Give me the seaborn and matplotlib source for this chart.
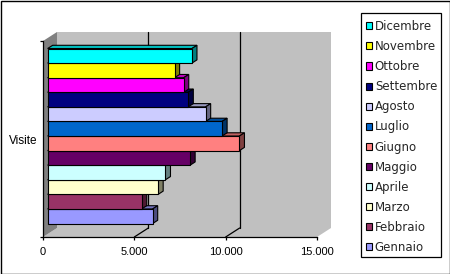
import numpy as np
import pandas as pd
import seaborn as sns
import matplotlib
matplotlib.use("Agg")
import matplotlib.pyplot as plt
from matplotlib.patches import Polygon, Rectangle
from matplotlib.lines import Line2D
from matplotlib.transforms import ScaledTranslation
import matplotlib.colors as mcolors

# ---- data ----
mesi = ["Gennaio", "Febbraio", "Marzo", "Aprile", "Maggio", "Giugno",
        "Luglio", "Agosto", "Settembre", "Ottobre", "Novembre", "Dicembre"]
visite = [5750, 5150, 6050, 6450, 7800, 10500, 9550, 8650, 7700, 7450, 6950, 7900]
colori = ["#9999FF", "#993366", "#FFFFCC", "#CCFFFF", "#660066", "#FF8080",
          "#0066CC", "#CCCCFF", "#000080", "#FF00FF", "#FFFF00", "#00FFFF"]
categoria = "Visite"
tick_valori = [0, 5000, 10000, 15000]
tick_etichette = ["0", "5.000", "10.000", "15.000"]

sns.set_theme(style="white")
plt.rcParams["font.family"] = ["Liberation Sans", "DejaVu Sans"]

W, H = 450, 274
fig = plt.figure(figsize=(W / 100, H / 100), dpi=100)
fig.patch.set_facecolor("white")

# front plane of the 3D box, in pixels
L, R, T, B = 43, 317, 41, 237
ax = fig.add_axes([L / W, (H - B) / H, (R - L) / W, (B - T) / H])
ax.set_facecolor("none")

df = pd.DataFrame({"categoria": [categoria] * len(mesi), "mese": mesi, "visite": visite})
ordine = mesi[::-1]
pal = dict(zip(mesi, colori))

sns.barplot(data=df, x="visite", y="categoria", hue="mese", hue_order=ordine,
            palette=pal, orient="h", width=0.8, saturation=1, errorbar=None,
            edgecolor="black", linewidth=0.8, legend=False, ax=ax)
barre = list(ax.patches)

ax.set_xlim(tick_valori[0], tick_valori[-1])
ax.set_ylim(0.448, -0.448)

# depth vector (pixels) -> axes fraction
Dpx = (14.0, 9.0)
dx, dy = Dpx[0] / (R - L), Dpx[1] / (B - T)
f1, f2 = 0.33, 0.69

# walls
ax.add_patch(Rectangle((dx, dy), 1, 1, transform=ax.transAxes, facecolor="#C0C0C0",
                       edgecolor="none", zorder=0, clip_on=False))
ax.add_patch(Polygon([(0, 0), (1, 0), (1 + dx, dy), (dx, dy)], closed=True,
                     transform=ax.transAxes, facecolor="#C0C0C0", edgecolor="none",
                     zorder=0, clip_on=False))
ax.add_patch(Polygon([(0, 0), (0, 1), (dx, 1 + dy), (dx, dy)], closed=True,
                     transform=ax.transAxes, facecolor="#808080", edgecolor="none",
                     zorder=0.5, clip_on=False))
# gridlines on the back wall and floor
for v in tick_valori[1:-1]:
    xf = ax.transLimits.transform((v, 0))[0]
    ax.add_line(Line2D([xf + dx, xf + dx], [dy, 1 + dy], transform=ax.transAxes,
                       color="black", lw=0.9, zorder=1, clip_on=False))
    ax.add_line(Line2D([xf, xf + dx], [0, dy], transform=ax.transAxes,
                       color="black", lw=0.9, zorder=1, clip_on=False))

# 3D bars
shift = ScaledTranslation(f1 * Dpx[0] / 100, f1 * Dpx[1] / 100, fig.dpi_scale_trans)
n = len(barre)
for i, p in enumerate(barre):
    k = n - 1 - i  # rank from bottom
    base = 10 + 3 * k
    x0, y0, w, h = p.get_x(), p.get_y(), p.get_width(), p.get_height()
    pts = ax.transLimits.transform([(x0, y0), (x0 + w, y0 + h)])
    xl, xr = min(pts[:, 0]), max(pts[:, 0])
    yb, yt = min(pts[:, 1]), max(pts[:, 1])
    c = np.array(mcolors.to_rgb(p.get_facecolor()))
    o1 = (f1 * dx, f1 * dy)
    o2 = (f2 * dx, f2 * dy)
    top = [(xl + o1[0], yt + o1[1]), (xr + o1[0], yt + o1[1]),
           (xr + o2[0], yt + o2[1]), (xl + o2[0], yt + o2[1])]
    side = [(xr + o1[0], yb + o1[1]), (xr + o1[0], yt + o1[1]),
            (xr + o2[0], yt + o2[1]), (xr + o2[0], yb + o2[1])]
    ax.add_patch(Polygon(top, closed=True, transform=ax.transAxes, facecolor=c * 0.75,
                         edgecolor="black", lw=0.8, zorder=base, clip_on=False))
    ax.add_patch(Polygon(side, closed=True, transform=ax.transAxes, facecolor=c * 0.5,
                         edgecolor="black", lw=0.8, zorder=base + 1, clip_on=False))
    p.set_transform(ax.transData + shift)
    p.set_zorder(base + 2)
    p.set_clip_on(False)

# axes styling
for s in ["top", "right"]:
    ax.spines[s].set_visible(False)
for s in ["left", "bottom"]:
    ax.spines[s].set_color("black")
    ax.spines[s].set_linewidth(0.9)
    ax.spines[s].set_zorder(2)
ax.grid(False)
ax.set_xticks(tick_valori)
ax.set_xticklabels(tick_etichette)
ax.tick_params(axis="x", direction="out", length=2.5, width=0.9, color="black",
               pad=5, labelsize=8, labelcolor="black", bottom=True)
yl = ax.get_ylim()
ax.set_yticks([0])
ax.set_yticklabels([categoria])
ax.set_yticks(list(yl), minor=True)
ax.tick_params(axis="y", which="major", length=0, pad=4.3, labelsize=8.5, labelcolor="black")
ax.tick_params(axis="y", which="minor", direction="out", length=2.5, width=0.9,
               color="black", left=True)
ax.set_xlabel("")
ax.set_ylabel("")

# legend (custom frame drawn separately)
fig.add_artist(Rectangle((361 / W, 1 - 257 / H), (441 - 361) / W, (257 - 13) / H,
                         transform=fig.transFigure, facecolor="white", edgecolor="black",
                         lw=0.9, zorder=3))
handles = [Rectangle((0, 0), 1, 1, facecolor=pal[m], edgecolor="black", lw=0.8) for m in ordine]
leg = fig.legend(handles, ordine, loc="upper left", bbox_to_anchor=(366 / W, 1 - 20 / H),
                 frameon=False, prop={"family": ["DejaVu Sans"], "size": 8.5},
                 handlelength=0.55, handleheight=0.55, handletextpad=0.2,
                 labelspacing=0.6, borderpad=0, borderaxespad=0)
leg.set_zorder(4)

# figure border
fig.add_artist(Rectangle((0.5 / W, 0.5 / H), (W - 1) / W, (H - 1) / H, transform=fig.transFigure,
                         fill=False, edgecolor="black", lw=1))

fig.savefig("out.png", dpi=100)
